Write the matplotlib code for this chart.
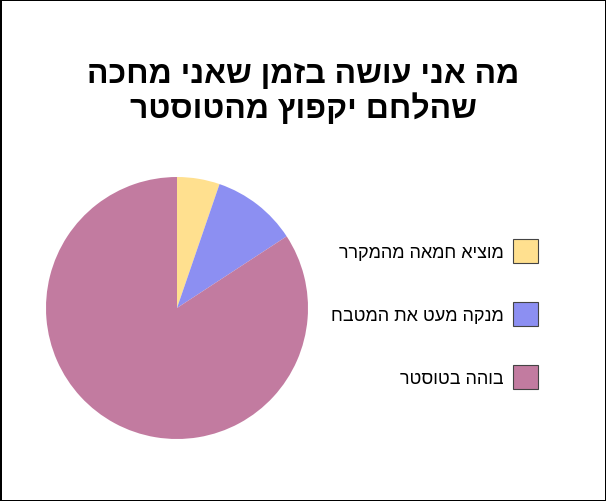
import matplotlib.pyplot as plt
from matplotlib.patches import Patch

plt.rcParams['font.family'] = ['Liberation Sans', 'DejaVu Sans']

# hebrew is drawn left-to-right by matplotlib, so strings get reversed for display
def rtl(s):
    return s[::-1]

title_lines = ['מה אני עושה בזמן שאני מחכה', 'שהלחם יקפוץ מהטוסטר']
labels = ['מוציא חמאה מהמקרר', 'מנקה מעט את המטבח', 'בוהה בטוסטר']
values = [1, 2, 16]
colors = ['#FFE08F', '#8C8FF2', '#C27BA0']

W, H = 606, 502
fig = plt.figure(figsize=(W / 100, H / 100), dpi=100)
fig.patch.set_edgecolor('black')
fig.patch.set_linewidth(2)

# pie centre ~ (177, 309) px, radius ~131 px
cx, cy, r = 177, H - 309, 131
ax = fig.add_axes([(cx - r) / W, (cy - r) / H, 2 * r / W, 2 * r / H])
wedges, _ = ax.pie(values, colors=colors, startangle=90, counterclock=False,
                   wedgeprops=dict(linewidth=0))
ax.set_xlim(-1, 1)
ax.set_ylim(-1, 1)

fig.text(0.5, 1 - 75 / H, rtl(title_lines[0]), ha='center', va='center',
         fontsize=23, fontweight='bold')
fig.text(0.5, 1 - 109 / H, rtl(title_lines[1]), ha='center', va='center',
         fontsize=23, fontweight='bold')

handles = [Patch(facecolor=c, edgecolor='#444444', linewidth=0.8) for c in colors]
fig.legend(handles, [rtl(l) for l in labels], loc='center right',
           bbox_to_anchor=(538 / W, 1 - 315 / H), bbox_transform=fig.transFigure,
           frameon=False, markerfirst=False, fontsize=13,
           handlelength=1.4, handleheight=1.6, handletextpad=0.5,
           labelspacing=2.2, borderpad=0, borderaxespad=0)

fig.savefig('out.png', dpi=100, edgecolor=fig.get_edgecolor())
